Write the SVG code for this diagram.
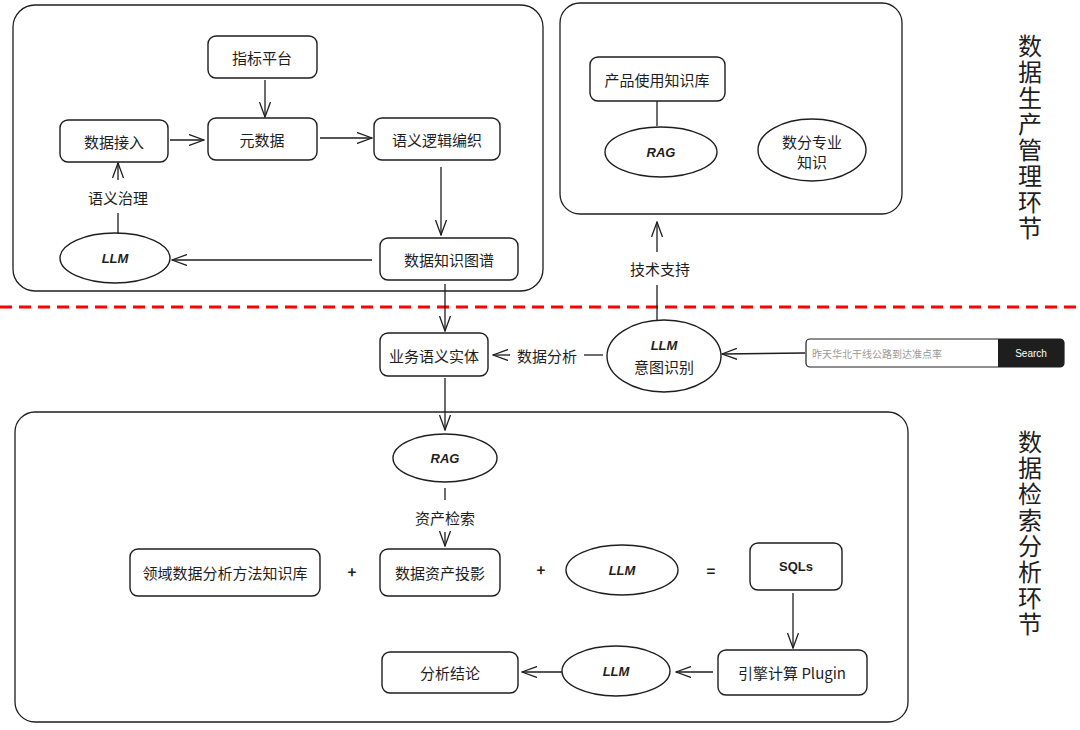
<svg xmlns="http://www.w3.org/2000/svg" width="1080" height="730" viewBox="0 0 1080 730">
<defs>
<marker id="ah" markerWidth="16" markerHeight="12" refX="15" refY="6" orient="auto" markerUnits="userSpaceOnUse">
<path d="M0,0.5 L15,6 L0,11.5" fill="none" stroke="#1e1e1e" stroke-width="1.3"/>
</marker>
</defs>
<style>
.box{fill:#fff;stroke:#1e1e1e;stroke-width:1.4}
.cont{fill:none;stroke:#1e1e1e;stroke-width:1.3}
.ln{fill:none;stroke:#1e1e1e;stroke-width:1.3}
.t{font-family:"Noto Sans CJK SC","Liberation Sans",sans-serif;font-size:15px;fill:#1e1e1e;text-anchor:middle;dominant-baseline:central}
.b{font-family:"Liberation Sans",sans-serif;font-size:13px;font-weight:bold;font-style:italic;fill:#1e1e1e;text-anchor:middle;dominant-baseline:central}
.v{font-family:"Noto Sans CJK SC",sans-serif;font-size:24px;fill:#1e1e1e;writing-mode:vertical-rl;letter-spacing:2px}
</style>
<rect width="1080" height="730" fill="#fff"/>

<g id="containers">
<rect class="cont" x="13" y="5" width="530" height="286" rx="22"/>
<rect class="cont" x="560" y="3" width="342" height="211" rx="20"/>
<rect class="cont" x="15" y="412" width="893" height="310" rx="20"/>
</g>

<g id="divider">
<line x1="0" y1="307" x2="1080" y2="307" stroke="#f00" stroke-width="3" stroke-dasharray="12 7"/>
</g>

<g id="connectors">
<line class="ln" x1="265" y1="80" x2="265" y2="117" marker-end="url(#ah)"/>
<line class="ln" x1="170" y1="140" x2="204" y2="140" marker-end="url(#ah)"/>
<line class="ln" x1="320" y1="138" x2="372" y2="138" marker-end="url(#ah)"/>
<line class="ln" x1="441" y1="167" x2="441" y2="235" marker-end="url(#ah)"/>
<line class="ln" x1="372" y1="260" x2="172" y2="260" marker-end="url(#ah)"/>
<line class="ln" x1="118" y1="235" x2="118" y2="213"/>
<line class="ln" x1="118" y1="180" x2="118" y2="163" marker-end="url(#ah)"/>
<line class="ln" x1="445" y1="284" x2="445" y2="331" marker-end="url(#ah)"/>
<line class="ln" x1="657" y1="101" x2="657" y2="126"/>
<line class="ln" x1="657" y1="322" x2="657" y2="285"/>
<line class="ln" x1="657" y1="252" x2="657" y2="222" marker-end="url(#ah)"/>
<line class="ln" x1="603" y1="355" x2="584" y2="355"/>
<line class="ln" x1="510" y1="355" x2="493" y2="355" marker-end="url(#ah)"/>
<line class="ln" x1="805" y1="353" x2="722" y2="354" marker-end="url(#ah)"/>
<line class="ln" x1="445" y1="378" x2="445" y2="430" marker-end="url(#ah)"/>
<line class="ln" x1="445" y1="488" x2="445" y2="500"/>
<line class="ln" x1="445" y1="532" x2="445" y2="546" marker-end="url(#ah)"/>
<line class="ln" x1="793" y1="593" x2="793" y2="648" marker-end="url(#ah)"/>
<line class="ln" x1="713" y1="672" x2="676" y2="672" marker-end="url(#ah)"/>
<line class="ln" x1="562" y1="672" x2="522" y2="672" marker-end="url(#ah)"/>
</g>

<g id="labels">
<rect x="80" y="184" width="76" height="26" fill="#fff"/>
<text class="t" x="118" y="197">语义治理</text>
<text class="t" x="660" y="268">技术支持</text>
<text class="t" x="547" y="355">数据分析</text>
<text class="t" x="445" y="517">资产检索</text>
<text class="t" x="352" y="571" style="font-weight:bold">+</text>
<text class="t" x="541" y="569" style="font-weight:bold">+</text>
<text class="t" x="711" y="570" style="font-weight:bold">=</text>
</g>

<g id="n-zhibiao"><rect class="box" x="208" y="36" width="109" height="42" rx="8"/><text class="t" x="262" y="57">指标平台</text></g>
<g id="n-jieru"><rect class="box" x="60" y="120" width="108" height="42" rx="8"/><text class="t" x="114" y="141">数据接入</text></g>
<g id="n-yuanshuju"><rect class="box" x="208" y="118" width="109" height="42" rx="8"/><text class="t" x="262" y="139">元数据</text></g>
<g id="n-bianzhi"><rect class="box" x="374" y="118" width="126" height="42" rx="8"/><text class="t" x="437" y="139">语义逻辑编织</text></g>
<g id="n-tupu"><rect class="box" x="380" y="238" width="138" height="42" rx="8"/><text class="t" x="449" y="259">数据知识图谱</text></g>
<g id="n-llm1"><ellipse class="box" cx="115" cy="258" rx="55" ry="25"/><text class="b" x="115" y="258">LLM</text></g>

<g id="n-chanpin"><rect class="box" x="590" y="57" width="135" height="44" rx="8"/><text class="t" x="657" y="79">产品使用知识库</text></g>
<g id="n-rag1"><ellipse class="box" cx="661" cy="152" rx="56" ry="25"/><text class="b" x="661" y="152">RAG</text></g>
<g id="n-shufen"><ellipse class="box" cx="812" cy="150" rx="54" ry="31"/><text class="t" x="812" y="141">数分专业</text><text class="t" x="812" y="161">知识</text></g>

<g id="n-shiti"><rect class="box" x="380" y="333" width="108" height="43" rx="8"/><text class="t" x="434" y="355">业务语义实体</text></g>
<g id="n-yitu"><ellipse class="box" cx="664" cy="356" rx="57" ry="36"/><text class="b" x="664" y="345">LLM</text><text class="t" x="664" y="366">意图识别</text></g>
<g id="n-search">
<rect x="806" y="339" width="258" height="28" rx="4" fill="#fff" stroke="#1e1e1e" stroke-width="1.2"/>
<path d="M998,339 H1060 Q1064,339 1064,343 V363 Q1064,367 1060,367 H998 Z" fill="#1e1e1e"/>
<text x="812" y="353" style="font-family:'Noto Sans CJK SC',sans-serif;font-size:10px;fill:#999;dominant-baseline:central">昨天华北干线公路到达准点率</text>
<text x="1031" y="353" style="font-family:'Liberation Sans',sans-serif;font-size:10px;fill:#fff;text-anchor:middle;dominant-baseline:central">Search</text>
</g>

<g id="n-rag2"><ellipse class="box" cx="445" cy="458" rx="52" ry="24"/><text class="b" x="445" y="458">RAG</text></g>
<g id="n-lingyu"><rect class="box" x="130" y="549" width="190" height="47" rx="8"/><text class="t" x="225" y="572">领域数据分析方法知识库</text></g>
<g id="n-touying"><rect class="box" x="380" y="549" width="120" height="47" rx="8"/><text class="t" x="440" y="572">数据资产投影</text></g>
<g id="n-llm2"><ellipse class="box" cx="622" cy="570" rx="56" ry="25"/><text class="b" x="622" y="570">LLM</text></g>
<g id="n-sqls"><rect class="box" x="750" y="543" width="92" height="47" rx="8"/><text class="b" x="796" y="566" style="font-style:normal">SQLs</text></g>
<g id="n-yinqing"><rect class="box" x="718" y="650" width="149" height="45" rx="8"/><text class="t" x="792" y="672">引擎计算 Plugin</text></g>
<g id="n-llm3"><ellipse class="box" cx="616" cy="671" rx="54" ry="25"/><text class="b" x="616" y="671">LLM</text></g>
<g id="n-jielun"><rect class="box" x="382" y="652" width="136" height="41" rx="8"/><text class="t" x="450" y="672">分析结论</text></g>

<g id="side-titles">
<text class="v" x="1030" y="34">数据生产管理环节</text>
<text class="v" x="1030" y="430">数据检索分析环节</text>
</g>
</svg>
